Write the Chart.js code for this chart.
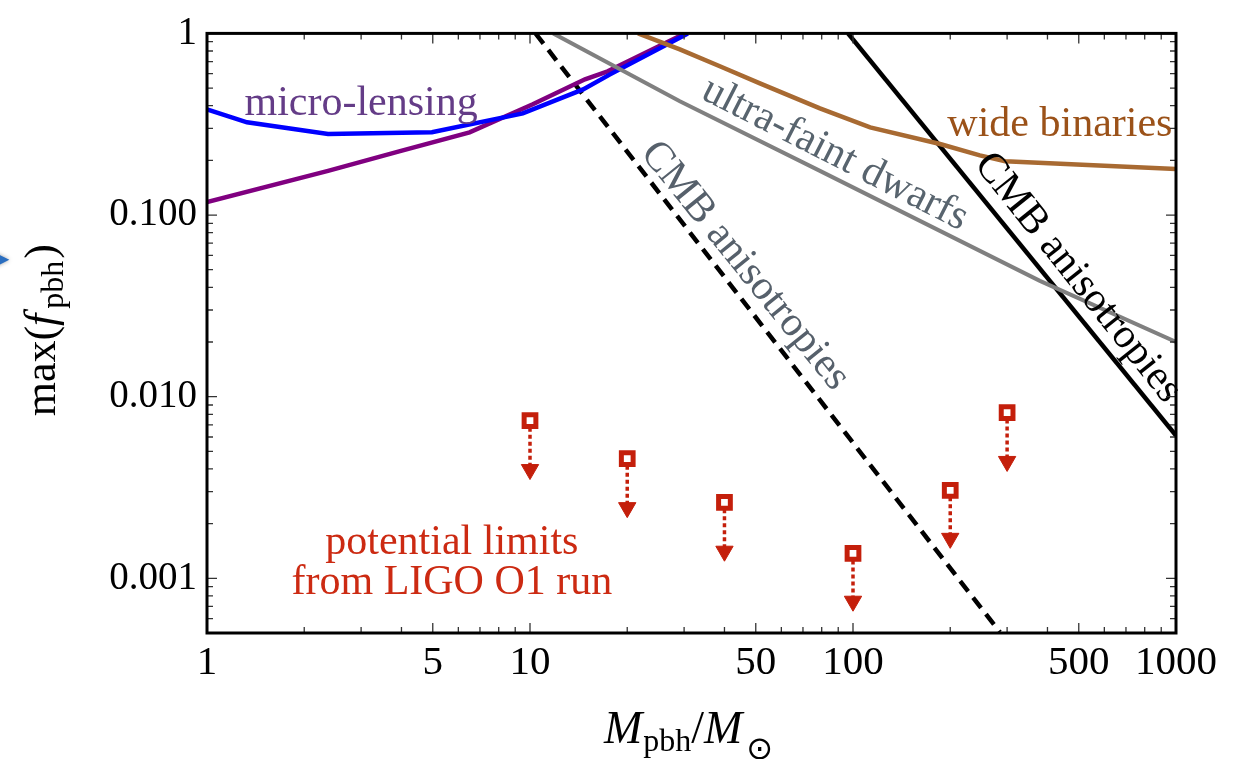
<!DOCTYPE html>
<html>
<head>
<meta charset="utf-8">
<script src="https://cdn.jsdelivr.net/npm/chart.js@4.4.1/dist/chart.umd.min.js"></script>
<style>
html,body{margin:0;padding:0;background:#fff}
canvas{display:block}
</style>
</head>
<body>
<canvas id="c" width="1242" height="759"></canvas>
<script>
const SERIF = "'Liberation Serif','Times New Roman',serif";
const RED = '#c41f0b';

// axis ticks
const xTickVals = [1, 5, 10, 50, 100, 500, 1000];
const xTickLabels = ['1', '5', '10', '50', '100', '500', '1000'];
const yTickVals = [0.001, 0.01, 0.1, 1];
const yTickLabels = ['0.001', '0.010', '0.100', '1'];

// micro-lensing, blue curve
const lensBlueM = [1, 1.33, 2.37, 4.97, 9.5, 14.6, 17.7, 30.8];
const lensBlueF = [0.382, 0.324, 0.279, 0.286, 0.363, 0.492, 0.595, 1.0];
// micro-lensing, purple curve
const lensPurpleM = [1, 2.37, 3.96, 6.5, 10.2, 14.8, 17.4, 30.2];
const lensPurpleF = [0.118, 0.175, 0.225, 0.285, 0.407, 0.559, 0.618, 1.0];
// ultra-faint dwarfs
const dwarfM = [11.8, 29.1, 79, 379, 1000];
const dwarfF = [1.0, 0.423, 0.175, 0.0434, 0.02];
// wide binaries
const binM = [21.6, 29.1, 38.7, 51.5, 79, 113, 186, 247, 296, 1000];
const binF = [1.0, 0.817, 0.659, 0.531, 0.387, 0.304, 0.246, 0.213, 0.198, 0.179];
// CMB anisotropies (dashed and solid)
const cmbDashM = [10.4, 285];
const cmbDashF = [1.0, 0.000505];
const cmbSolidM = [96.5, 1000];
const cmbSolidF = [1.0, 0.00611];
// LIGO O1 potential limits: square value and arrow head
const ligoM = [10, 20, 40, 100, 200, 300];
const ligoF = [0.00738, 0.00456, 0.00262, 0.00137, 0.00305, 0.00817];
const ligoArrowF = [0.00397, 0.00245, 0.00141, 0.000748, 0.00166, 0.0044];

// text labels placed in data coordinates
const notes = [
  {t:'micro-lensing', x:3.0, y:0.407, a:0, c:'#643c87'},
  {t:'ultra-faint dwarfs', x:87.9, y:0.216, a:27, c:'#58646e'},
  {t:'wide binaries', x:437, y:0.312, a:0, c:'#9b5219'},
  {t:'CMB anisotropies', x:46.3, y:0.0525, a:51, c:'#56606b'},
  {t:'CMB anisotropies', x:497, y:0.0451, a:51.4, c:'#000'},
  {t:'potential limits', x:5.73, y:0.00156, a:0, c:'#cc2a12'},
  {t:'from LIGO O1 run', x:5.73, y:0.000939, a:0, c:'#cc2a12'},
];

const pts = (xs, ys) => xs.map((x, i) => ({x, y: ys[i]}));
const curve = (xs, ys, color, w, extra) => Object.assign({
  data: pts(xs, ys), borderColor: color, borderWidth: w,
  pointRadius: 0, tension: 0, fill: false, order: 5
}, extra || {});

const stems = ligoM.map((m, i) => ({
  data: [{x:m, y:ligoF[i]}, {x:m, y:ligoArrowF[i]}],
  borderColor: RED, borderWidth: 3.5, borderDash: [4, 3],
  pointRadius: 0, fill: false, order: 2
}));

const datasets = [
  {data: pts(ligoM, ligoF), showLine: false, pointStyle: 'rect', pointRadius: 8.3,
   pointBorderWidth: 5, pointBorderColor: RED, pointBackgroundColor: '#fff', order: 0},
  {data: pts(ligoM, ligoArrowF), showLine: false, pointStyle: 'triangle', pointRotation: 180,
   pointRadius: 10, pointBorderWidth: 1, pointBorderColor: RED, pointBackgroundColor: RED, order: 1},
  ...stems,
  curve(dwarfM, dwarfF, '#808080', 4),
  curve(binM, binF, '#a86a32', 4.5),
  curve(lensBlueM, lensBlueF, '#0000ff', 4.5),
  curve(lensPurpleM, lensPurpleF, '#800080', 4.5),
  curve(cmbDashM, cmbDashF, '#000', 4.5, {borderDash: [13, 8]}),
  curve(cmbSolidM, cmbSolidF, '#000', 4.5),
];

function minorTicks(decades, lo, hi, skip) {
  const out = [];
  decades.forEach(d => { for (let k = 2; k <= 9; k++) {
    const v = k * d;
    if (v > lo && v < hi && !skip.some(s => Math.abs(s - v) / s < 1e-6)) out.push(v);
  }});
  return out;
}
const xMinor = minorTicks([1, 10, 100], 1, 1000, xTickVals);
const yMinor = minorTicks([0.0001, 0.001, 0.01, 0.1], 0.0005, 1, yTickVals);

function drawPieces(ctx, pieces) {
  let w = 0;
  pieces.forEach(p => { ctx.font = p.f; p.w = ctx.measureText(p.t).width; w += p.w + (p.gap || 0); });
  let x = -w / 2;
  pieces.forEach(p => {
    ctx.font = p.f; ctx.fillText(p.t, x, p.dy || 0);
    x += p.w + (p.gap || 0);
  });
}

const decor = {
  id: 'decor',
  afterDatasetsDraw(chart) {
    const {ctx, scales: {x, y}} = chart;
    ctx.save();
    notes.forEach(n => {
      ctx.save();
      ctx.translate(x.getPixelForValue(n.x), y.getPixelForValue(n.y));
      ctx.rotate(n.a * Math.PI / 180);
      ctx.font = '42px ' + SERIF;
      ctx.fillStyle = n.c;
      ctx.textAlign = 'center';
      ctx.textBaseline = 'middle';
      ctx.fillText(n.t, 0, 0);
      ctx.restore();
    });
    ctx.restore();
  },
  afterDraw(chart) {
    const {ctx, chartArea: a, scales: {x, y}} = chart;
    ctx.save();
    // inward ticks on all four sides
    ctx.strokeStyle = '#333';
    ctx.lineWidth = 1.3;
    const xt = (v, len) => {
      const p = x.getPixelForValue(v);
      ctx.beginPath();
      ctx.moveTo(p, a.bottom); ctx.lineTo(p, a.bottom - len);
      ctx.moveTo(p, a.top); ctx.lineTo(p, a.top + len);
      ctx.stroke();
    };
    const yt = (v, len) => {
      const p = y.getPixelForValue(v);
      ctx.beginPath();
      ctx.moveTo(a.left, p); ctx.lineTo(a.left + len, p);
      ctx.moveTo(a.right, p); ctx.lineTo(a.right - len, p);
      ctx.stroke();
    };
    xTickVals.forEach(v => xt(v, 10));
    xMinor.forEach(v => xt(v, 6));
    yTickVals.forEach(v => yt(v, 10));
    yMinor.forEach(v => yt(v, 6));
    // frame
    ctx.strokeStyle = '#000';
    ctx.lineWidth = 3;
    ctx.strokeRect(a.left, a.top, a.right - a.left, a.bottom - a.top);

    ctx.fillStyle = '#000';
    ctx.textBaseline = 'alphabetic';
    ctx.textAlign = 'left';
    // y axis title
    ctx.save();
    ctx.translate(55, (a.top + a.bottom) / 2 - 3);
    ctx.rotate(-Math.PI / 2);
    drawPieces(ctx, [
      {t:'max(', f:'44px ' + SERIF},
      {t:'f', f:'italic 44px ' + SERIF, gap: 5},
      {t:'pbh', f:'32px ' + SERIF, dy: 8, gap: 2},
      {t:')', f:'44px ' + SERIF},
    ]);
    ctx.restore();
    // x axis title
    ctx.save();
    ctx.translate((a.left + a.right) / 2 - 3, 743);
    drawPieces(ctx, [
      {t:'M', f:'italic 46px ' + SERIF, gap: 1},
      {t:'pbh', f:'32px ' + SERIF, dy: 8},
      {t:'/', f:'46px ' + SERIF},
      {t:'M', f:'italic 46px ' + SERIF, gap: 4},
      {t:'\u2299', f:"32px 'DejaVu Sans'", dy: 16},
    ]);
    ctx.restore();
    // clipped arrow glyph at the left edge
    ctx.fillStyle = '#2a6ec0';
    ctx.shadowColor = 'rgba(0,0,0,0.35)';
    ctx.shadowBlur = 4;
    ctx.font = "20px 'DejaVu Sans'";
    ctx.textBaseline = 'middle';
    ctx.fillText('\u25B6', -6, 260);
    ctx.restore();
  }
};

Chart.defaults.font.family = SERIF;
Chart.defaults.color = '#000';

new Chart(document.getElementById('c'), {
  type: 'line',
  data: {datasets},
  plugins: [decor],
  options: {
    responsive: false,
    animation: false,
    devicePixelRatio: 1,
    layout: {padding: {left: 0, top: 32, right: 66, bottom: 0}},
    plugins: {legend: {display: false}, tooltip: {enabled: false}},
    scales: {
      x: {
        type: 'logarithmic', min: 1, max: 1000,
        grid: {display: false, drawTicks: false},
        border: {display: false},
        afterBuildTicks: s => { s.ticks = xTickVals.map(v => ({value: v})); },
        afterFit: s => { s.height = 126; },
        ticks: {autoSkip: false, maxRotation: 0, padding: 6, font: {size: 41},
          callback: (v, i) => xTickLabels[i]}
      },
      y: {
        type: 'logarithmic', min: 0.0005, max: 1,
        grid: {display: false, drawTicks: false},
        border: {display: false},
        afterBuildTicks: s => { s.ticks = yTickVals.map(v => ({value: v})); },
        afterFit: s => { s.width = 207; },
        ticks: {autoSkip: false, padding: 10, font: {size: 39},
          callback: (v, i) => yTickLabels[i]}
      }
    }
  }
});
</script>
</body>
</html>
